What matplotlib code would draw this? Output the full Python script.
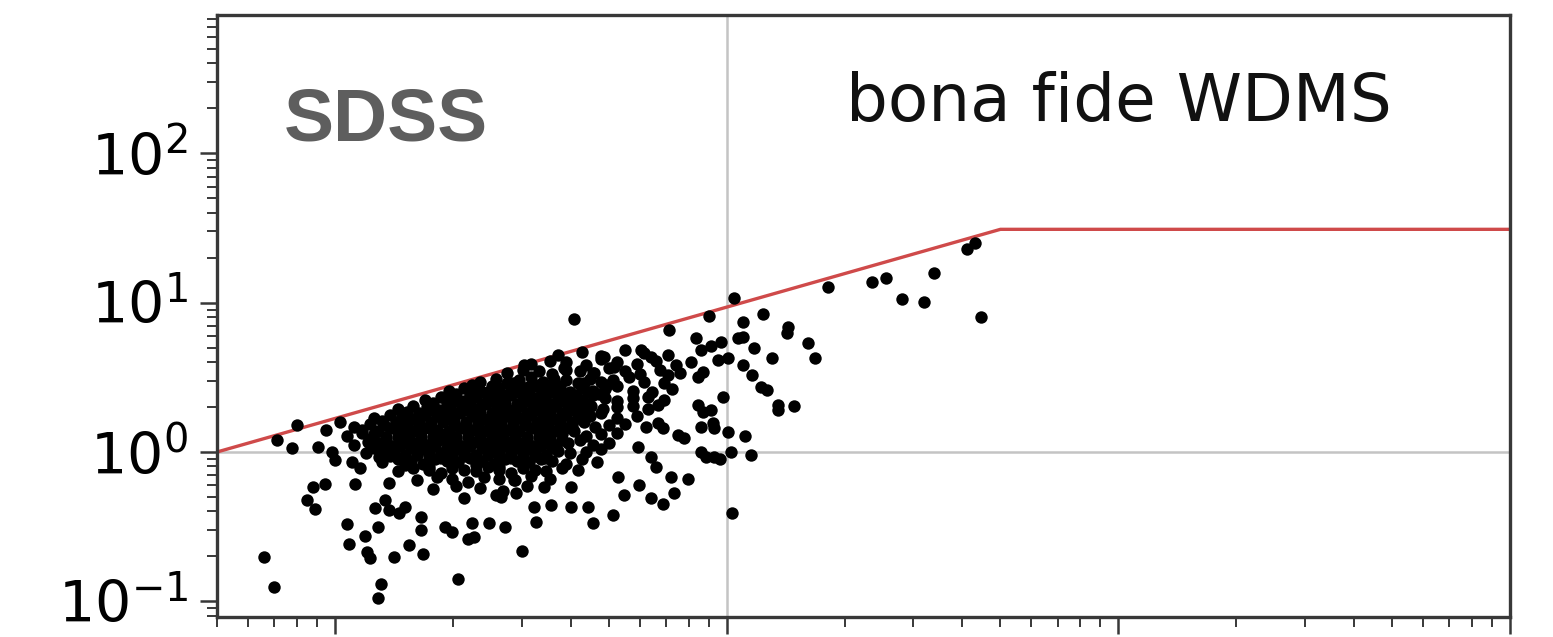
import numpy as np
import matplotlib.pyplot as plt

# WDMS sample, log10 of both axes; outskirts first, then the crowded middle
edge_lx = [-0.181, -0.155, -0.148, -0.109, -0.097, -0.043, -0.023, 0.013, -0.056, -0.025,
           -0.071, -0.051, 0.051, 0.031, 0.036, 0.076, 0.081, 0.089, 0.109, 0.117,
           0.109, 0.150, 0.188, 0.226, 0.219, 0.221, 0.313, 0.341, 0.280, 0.298,
           0.349, 0.102, 0.137, 0.163, 0.178, 0.127, 0.137, -0.008, 0.000, 0.043,
           0.064, 0.112, 0.478, 0.659, 0.710, 0.837, 0.807, 0.865, 0.901, 0.858,
           0.776, 0.738, 0.603, 0.603, 0.552, 0.509, 0.514, 0.433, 0.394, 0.425,
           0.463, 0.458, 0.356, 0.534, 0.646, 0.723, 0.824, 0.837, 0.794, 0.875,
           0.891, 0.934, 0.967, 0.824, 0.926, 0.941, 0.964, 0.934, 0.774, 0.807,
           0.819, 1.015, 1.061, 0.982, 1.010, 0.947, 1.018, 0.954, 1.092, 1.043,
           1.158, 1.155, 1.209, 1.226, 1.117, 1.069, 1.028, 1.041, 0.985, 0.959,
           1.003, 0.977, 0.941, 1.043, 1.066, 1.087, 1.104, 1.132, 1.130, 1.173,
           0.992, 0.959, 0.967, 1.003, 1.048, 1.260, 1.372, 1.407, 1.529, 1.448,
           1.504, 1.649, 1.613, 1.634, 0.611, 0.483, 0.585, 0.852, 0.921, 0.934,
           0.908, 0.687, 0.781, 0.807, 0.494, 0.545, 0.662, 0.712, 0.850, 0.926]
edge_ly = [-0.703, -0.904, 0.080, 0.027, 0.181, 0.033, 0.147, 0.201, -0.234, -0.214,
           -0.322, -0.382, -0.214, -0.482, -0.616, -0.563, -0.670, -0.710, -0.502, -0.884,
           -0.978, -0.703, -0.623, -0.683, -0.435, -0.522, -0.851, -0.583, -0.502, -0.536,
           -0.476, -0.375, -0.388, -0.409, -0.368, -0.322, -0.208, 0.000, -0.054, -0.067,
           -0.107, -0.033, -0.663, -0.476, -0.422, -0.348, -0.308, -0.275, -0.181, -0.167,
           -0.221, -0.288, -0.368, -0.234, -0.355, -0.368, -0.469, -0.502, -0.476, -0.301,
           -0.275, -0.188, -0.569, -0.234, -0.368, -0.167, 0.194, 0.161, 0.167, 0.114,
           0.094, 0.000, -0.033, 0.315, 0.315, 0.268, 0.194, 0.167, 0.033, -0.033,
           -0.100, -0.409, -0.020, -0.047, 0.000, -0.033, 1.031, 0.911, 0.924, 0.871,
           0.837, 0.797, 0.730, 0.630, 0.630, 0.697, 0.764, 0.770, 0.737, 0.710,
           0.630, 0.616, 0.536, 0.583, 0.516, 0.435, 0.415, 0.315, 0.281, 0.308,
           0.368, 0.281, 0.161, 0.134, 0.107, 1.105, 1.139, 1.165, 1.199, 1.025,
           1.005, 0.904, 1.360, 1.400, 0.891, 0.583, 0.563, 0.817, 0.764, 0.683,
           0.603, 0.636, 0.683, 0.636, 0.435, 0.435, 0.529, 0.569, 0.516, 0.502]

core_lx = [0.57, 0.63, 0.68, 0.74, 0.79, 0.85,
           0.50, 0.55, 0.59, 0.64, 0.68, 0.72, 0.77, 0.82, 0.87,
           0.44, 0.48, 0.52, 0.555, 0.59, 0.625, 0.66, 0.70, 0.74, 0.78, 0.83, 0.88,
           0.37, 0.41, 0.44, 0.47, 0.50, 0.53, 0.56, 0.59, 0.62, 0.65, 0.68, 0.71, 0.75, 0.79, 0.84,
           0.29, 0.33, 0.36, 0.39, 0.42, 0.45, 0.48, 0.51, 0.54, 0.57, 0.60, 0.63, 0.66, 0.69,
           0.72, 0.76, 0.81, 0.86,
           0.23, 0.27, 0.30, 0.33, 0.36, 0.39, 0.42, 0.45, 0.48, 0.51, 0.54, 0.57, 0.60, 0.63,
           0.66, 0.69, 0.72, 0.76, 0.80, 0.84,
           0.16, 0.20, 0.235, 0.265, 0.295, 0.325, 0.355, 0.385, 0.415, 0.445, 0.475, 0.505,
           0.535, 0.565, 0.595, 0.625, 0.655, 0.685, 0.72, 0.76, 0.80,
           0.10, 0.14, 0.17, 0.20, 0.23, 0.26, 0.29, 0.32, 0.35, 0.38, 0.41, 0.44, 0.47, 0.50,
           0.53, 0.56, 0.59, 0.62, 0.65, 0.68, 0.72, 0.77,
           0.05, 0.09, 0.125, 0.155, 0.185, 0.215, 0.245, 0.275, 0.305, 0.335, 0.365, 0.395,
           0.425, 0.455, 0.485, 0.515, 0.545, 0.575, 0.605, 0.635, 0.665, 0.70, 0.74,
           0.03, 0.07, 0.10, 0.13, 0.16, 0.19, 0.22, 0.25, 0.28, 0.31, 0.34, 0.37, 0.40, 0.43,
           0.46, 0.49, 0.52, 0.55, 0.58, 0.61, 0.64, 0.68, 0.72,
           0.05, 0.085, 0.115, 0.145, 0.175, 0.205, 0.235, 0.265, 0.295, 0.325, 0.355, 0.385,
           0.415, 0.445, 0.475, 0.505, 0.535, 0.565, 0.595, 0.625, 0.66, 0.70,
           0.08, 0.12, 0.15, 0.18, 0.21, 0.24, 0.27, 0.30, 0.33, 0.36, 0.39, 0.42, 0.45, 0.48,
           0.51, 0.54, 0.57, 0.60, 0.64, 0.68,
           0.12, 0.16, 0.195, 0.225, 0.255, 0.285, 0.315, 0.345, 0.375, 0.405, 0.435, 0.465,
           0.495, 0.525, 0.555, 0.59, 0.63, 0.67,
           0.16, 0.20, 0.24, 0.27, 0.30, 0.33, 0.36, 0.39, 0.42, 0.45, 0.48, 0.51, 0.54, 0.58, 0.62,
           0.21, 0.26, 0.30, 0.34, 0.38, 0.42, 0.46, 0.50, 0.55,
           0.25, 0.31, 0.37, 0.43, 0.49,
           0.33, 0.41]
core_ly = [0.65, 0.67, 0.64, 0.68, 0.66, 0.65,
           0.59, 0.61, 0.60, 0.58, 0.62, 0.60, 0.59, 0.61, 0.58,
           0.53, 0.55, 0.54, 0.52, 0.55, 0.54, 0.53, 0.56, 0.54, 0.52, 0.55, 0.53,
           0.47, 0.49, 0.46, 0.48, 0.50, 0.47, 0.49, 0.48, 0.46, 0.49, 0.47, 0.48, 0.50, 0.47, 0.46,
           0.41, 0.43, 0.42, 0.40, 0.43, 0.41, 0.42, 0.44, 0.41, 0.42, 0.40, 0.43, 0.41, 0.42,
           0.44, 0.41, 0.40, 0.42,
           0.35, 0.37, 0.36, 0.34, 0.37, 0.35, 0.36, 0.38, 0.35, 0.36, 0.34, 0.37, 0.36, 0.35,
           0.38, 0.36, 0.34, 0.36, 0.37, 0.35,
           0.29, 0.31, 0.30, 0.28, 0.31, 0.30, 0.29, 0.32, 0.30, 0.28, 0.31, 0.30,
           0.29, 0.31, 0.30, 0.28, 0.31, 0.29, 0.30, 0.31, 0.29,
           0.23, 0.25, 0.24, 0.22, 0.25, 0.24, 0.23, 0.26, 0.24, 0.22, 0.25, 0.24, 0.23, 0.25,
           0.24, 0.22, 0.25, 0.23, 0.24, 0.26, 0.23, 0.24,
           0.17, 0.19, 0.18, 0.16, 0.19, 0.18, 0.17, 0.20, 0.18, 0.16, 0.19, 0.18,
           0.17, 0.19, 0.18, 0.16, 0.19, 0.17, 0.18, 0.20, 0.17, 0.18, 0.19,
           0.11, 0.13, 0.12, 0.10, 0.13, 0.12, 0.11, 0.14, 0.12, 0.10, 0.13, 0.12, 0.11, 0.13,
           0.12, 0.10, 0.13, 0.11, 0.12, 0.14, 0.11, 0.12, 0.13,
           0.05, 0.07, 0.06, 0.04, 0.07, 0.06, 0.05, 0.08, 0.06, 0.04, 0.07, 0.06,
           0.05, 0.07, 0.06, 0.04, 0.07, 0.05, 0.06, 0.08, 0.05, 0.06,
           -0.01, 0.01, 0.00, -0.02, 0.01, 0.00, -0.01, 0.02, 0.00, -0.02, 0.01, 0.00, -0.01, 0.01,
           0.00, -0.02, 0.01, -0.01, 0.00, 0.02,
           -0.07, -0.05, -0.06, -0.08, -0.05, -0.06, -0.07, -0.04, -0.06, -0.08, -0.05, -0.06,
           -0.07, -0.05, -0.06, -0.08, -0.05, -0.07,
           -0.13, -0.11, -0.12, -0.14, -0.11, -0.12, -0.13, -0.10, -0.12, -0.14, -0.11, -0.12,
           -0.13, -0.11, -0.12,
           -0.19, -0.17, -0.18, -0.20, -0.17, -0.18, -0.19, -0.16, -0.18,
           -0.25, -0.23, -0.24, -0.26, -0.23,
           -0.31, -0.29]

# the densest part of the clump, sitting between the rows above
fill_lx = [0.35, 0.40, 0.455, 0.515, 0.575, 0.635, 0.695,
           0.31, 0.345, 0.375, 0.405, 0.435, 0.465, 0.495, 0.525, 0.555, 0.585, 0.615, 0.645, 0.675,
           0.25, 0.285, 0.315, 0.345, 0.375, 0.405, 0.435, 0.465, 0.495, 0.525, 0.555, 0.585,
           0.615, 0.645,
           0.185, 0.215, 0.25, 0.28, 0.31, 0.34, 0.37, 0.40, 0.43, 0.46, 0.49, 0.52, 0.55, 0.58,
           0.61, 0.64,
           0.12, 0.155, 0.185, 0.215, 0.245, 0.275, 0.305, 0.335, 0.365, 0.395, 0.425, 0.455,
           0.485, 0.515, 0.545, 0.575, 0.605,
           0.07, 0.11, 0.14, 0.17, 0.20, 0.23, 0.26, 0.29, 0.32, 0.35, 0.38, 0.41, 0.44, 0.47,
           0.50, 0.53, 0.56, 0.59,
           0.09, 0.13, 0.16, 0.19, 0.22, 0.25, 0.28, 0.31, 0.34, 0.37, 0.40, 0.43, 0.46, 0.49,
           0.52, 0.55, 0.58,
           0.10, 0.135, 0.165, 0.195, 0.225, 0.255, 0.285, 0.315, 0.345, 0.375, 0.405, 0.435,
           0.465, 0.495, 0.525, 0.555,
           0.14, 0.18, 0.21, 0.24, 0.27, 0.30, 0.33, 0.36, 0.39, 0.42, 0.45, 0.48, 0.51, 0.54,
           0.18, 0.24, 0.30, 0.36, 0.42, 0.48]
fill_ly = [0.45, 0.44, 0.46, 0.45, 0.44, 0.46, 0.45,
           0.39, 0.38, 0.40, 0.39, 0.38, 0.40, 0.39, 0.38, 0.40, 0.39, 0.38, 0.40, 0.39,
           0.33, 0.32, 0.34, 0.33, 0.32, 0.34, 0.33, 0.32, 0.34, 0.33, 0.32, 0.34,
           0.33, 0.32,
           0.27, 0.26, 0.28, 0.27, 0.26, 0.28, 0.27, 0.26, 0.28, 0.27, 0.26, 0.28, 0.27, 0.26,
           0.28, 0.27,
           0.21, 0.20, 0.22, 0.21, 0.20, 0.22, 0.21, 0.20, 0.22, 0.21, 0.20, 0.22,
           0.21, 0.20, 0.22, 0.21, 0.20,
           0.15, 0.14, 0.16, 0.15, 0.14, 0.16, 0.15, 0.14, 0.16, 0.15, 0.14, 0.16, 0.15, 0.14,
           0.16, 0.15, 0.14, 0.16,
           0.09, 0.08, 0.10, 0.09, 0.08, 0.10, 0.09, 0.08, 0.10, 0.09, 0.08, 0.10, 0.09, 0.08,
           0.10, 0.09, 0.08,
           0.03, 0.02, 0.04, 0.03, 0.02, 0.04, 0.03, 0.02, 0.04, 0.03, 0.02, 0.04,
           0.03, 0.02, 0.04, 0.03,
           -0.03, -0.04, -0.02, -0.03, -0.04, -0.02, -0.03, -0.04, -0.02, -0.03, -0.04, -0.02,
           -0.03, -0.04,
           -0.09, -0.10, -0.08, -0.09, -0.10, -0.08]

# selection cut: rising power law, then flat
cut_x = [0.5, 50, 1000]
cut_y = [1.0, 31, 31]

x = 10 ** np.array(edge_lx + core_lx + fill_lx)
y = 10 ** np.array(edge_ly + core_ly + fill_ly)

W, H = 1553, 637
fig = plt.figure(figsize=(W / 100, H / 100), dpi=100)
ax = fig.add_axes([217 / W, 20 / H, 1293 / W, 602 / H])
ax.set_xscale('log')
ax.set_yscale('log')
ax.set_xlim(0.5, 1000)
ax.set_ylim(0.0785, 845)

ax.axhline(1, color='#c4c4c4', lw=1.8, zorder=1)
ax.axvline(10, color='#c4c4c4', lw=1.8, zorder=1)
ax.plot(cut_x, cut_y, color='#cf4a4a', lw=2.4, zorder=2)
ax.scatter(x, y, s=80, c='k', lw=0, zorder=3)

for sp in ax.spines.values():
    sp.set_linewidth(2.4)
    sp.set_color('#383838')
ax.tick_params(which='major', length=12, width=1.8, color='#383838', labelsize=41, pad=9)
ax.tick_params(which='minor', length=7, width=1.4, color='#383838')
ax.tick_params(axis='x', labelbottom=False)

ax.text(0.052, 0.791, 'SDSS', transform=ax.transAxes, fontsize=54,
        family='Liberation Sans', weight='bold', color='#5e5e5e', va='baseline')
ax.text(0.4865, 0.824, 'bona fide WDMS', transform=ax.transAxes, fontsize=47.5,
        color='#111111', va='baseline')

fig.savefig('out.png', dpi=100)
